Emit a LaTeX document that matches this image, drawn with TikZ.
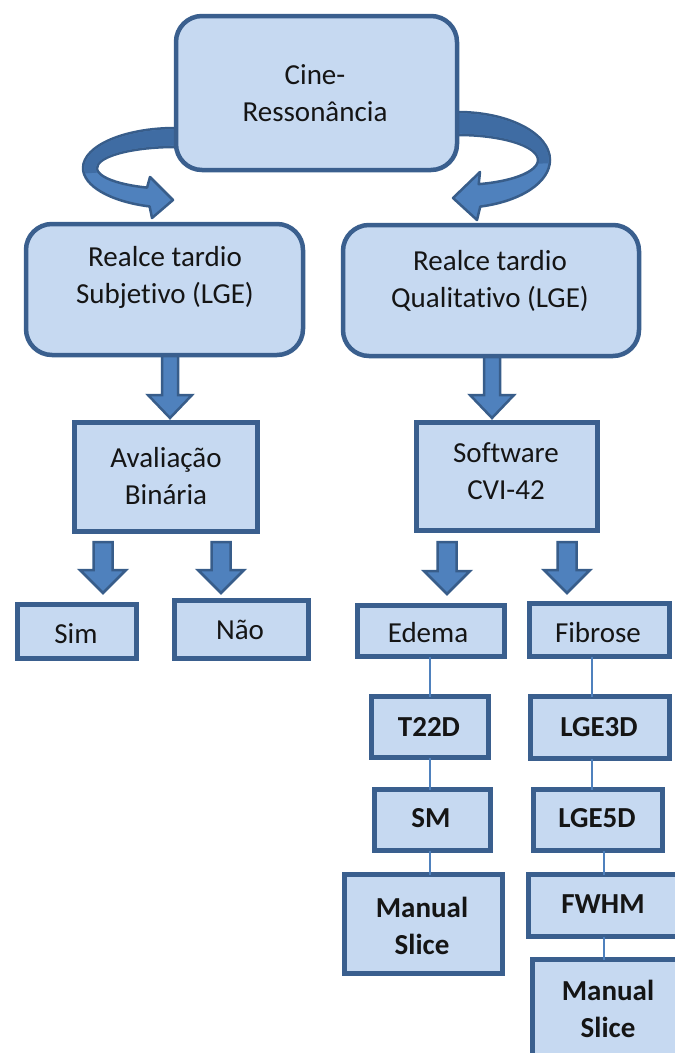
\documentclass[tikz,border=0pt]{standalone}
\usepackage{fontspec}
\setmainfont{Carlito}[RawFeature={-liga;-dlig;-clig}]
\usetikzlibrary{calc}
\definecolor{boxfill}{HTML}{C6D9F1}
\definecolor{boxline}{HTML}{3A5F8E}
\definecolor{arrfill}{HTML}{4F81BD}
\definecolor{arrback}{HTML}{3F6CA3}
\definecolor{arrline}{HTML}{385D8A}
\definecolor{conncol}{HTML}{4F81BD}
\definecolor{txtcol}{HTML}{151515}
\newcommand\blkarrow[5]{%
  \draw[blockarr] let \p1=(#1), \p2=(#2) in
  (\x1-#4pt,\y1) -- (\x1+#4pt,\y1) -- (\x1+#4pt,\y2+#3pt) -- (\x1+#5pt,\y2+#3pt)
  -- (\x1,\y2) -- (\x1-#5pt,\y2+#3pt) -- (\x1-#4pt,\y2+#3pt) -- cycle;}
\begin{document}
\begin{tikzpicture}[x=1pt,y=1pt,
  rbox/.style={draw=boxline, fill=boxfill, line width=4.5pt, rounded corners=26pt, inner sep=0pt, outer sep=0pt},
  sbox/.style={draw=boxline, fill=boxfill, line width=5pt, inner sep=0pt, outer sep=0pt},
  txt/.style={align=center, font=\fontsize{29}{37}\selectfont, text=txtcol, inner sep=0pt},
  btxt/.style={align=center, font=\fontsize{29}{37}\selectfont\bfseries, text=txtcol, inner sep=0pt},
  blockarr/.style={fill=arrfill, draw=arrline, line width=2.5pt, line join=miter},
  curvarr/.style={fill=arrfill, draw=arrline, line width=2.5pt, line join=round},
  backpart/.style={fill=arrback},
  connline/.style={draw=conncol, line width=1.6pt}]
\useasboundingbox (0,0) rectangle (675,-1053);
\clip (0,0) rectangle (675,-1053);

% curved arrows
\coordinate (cl) at (175,-168);
\coordinate (cr) at (458,-160);
\draw[curvarr] (175,-128) arc[start angle=90, end angle=254, x radius=92, y radius=40]
  -- (152,-218) -- (173,-200) -- (150,-177) -- ($(cl)+(249:78 and 21)$)
  arc[start angle=249, end angle=90, x radius=78, y radius=21] -- cycle;
\fill[backpart] ($(cl)+(90:90.7 and 38.7)$) arc[start angle=90, end angle=188, x radius=90.7, y radius=38.7]
  -- ($(cl)+(192:79.3 and 22.3)$) arc[start angle=192, end angle=90, x radius=79.3, y radius=22.3] -- cycle;
\draw[curvarr] (458,-112) arc[start angle=90, end angle=-76, x radius=92, y radius=48]
  -- (477,-220) -- (453,-198) -- (480,-172) -- ($(cr)+(-75:80 and 25)$)
  arc[start angle=-75, end angle=90, x radius=80, y radius=25] -- cycle;
\fill[backpart] ($(cr)+(90:90.7 and 46.7)$) arc[start angle=90, end angle=-4, x radius=90.7, y radius=46.7]
  -- ($(cr)+(-8:81.3 and 26.3)$) arc[start angle=-8, end angle=90, x radius=81.3, y radius=26.3] -- cycle;

% block arrows
\coordinate (a1s) at (170,-355); \coordinate (a1t) at (170,-418);
\coordinate (a2s) at (492,-356); \coordinate (a2t) at (492,-418);
\coordinate (a3s) at (103,-542); \coordinate (a3t) at (103,-593);
\coordinate (a4s) at (221,-542); \coordinate (a4t) at (221,-593);
\coordinate (a5s) at (447,-542); \coordinate (a5t) at (447,-594);
\coordinate (a6s) at (567,-542); \coordinate (a6t) at (567,-593);
\blkarrow{a1s}{a1t}{23}{8}{22}
\blkarrow{a2s}{a2t}{23}{8}{22}
\blkarrow{a3s}{a3t}{23}{9.5}{23}
\blkarrow{a4s}{a4t}{23}{9.5}{23}
\blkarrow{a5s}{a5t}{23}{9.5}{23}
\blkarrow{a6s}{a6t}{23}{9.5}{23}

% boxes
\node[rbox, minimum width=281pt, minimum height=154pt] (top) at (316.5,-93) {};
\node[rbox, minimum width=277pt, minimum height=131pt] (leftR) at (164.5,-289.5) {};
\node[rbox, minimum width=296pt, minimum height=131pt] (rightR) at (491,-290.5) {};
\node[sbox, minimum width=183pt, minimum height=109pt] (aval) at (166,-477) {};
\node[sbox, minimum width=181pt, minimum height=108pt] (soft) at (507,-476.5) {};
\node[sbox, minimum width=119pt, minimum height=54pt] (sim) at (77,-631.5) {};
\node[sbox, minimum width=134pt, minimum height=58pt] (nao) at (241.5,-629.5) {};
\node[sbox, minimum width=147pt, minimum height=51pt] (edema) at (431,-631) {};
\node[sbox, minimum width=140pt, minimum height=53pt] (fib) at (599.5,-630) {};
\node[sbox, minimum width=117pt, minimum height=61pt] (t22d) at (430,-727) {};
\node[sbox, minimum width=116pt, minimum height=61pt] (sm) at (432.5,-820) {};
\node[sbox, minimum width=158pt, minimum height=99pt] (manL) at (423.5,-924) {};
\node[sbox, minimum width=139pt, minimum height=62pt] (lge3d) at (600,-727.5) {};
\node[sbox, minimum width=129pt, minimum height=61pt] (lge5d) at (598,-820) {};
\node[sbox, minimum width=151pt, minimum height=62pt] (fwhm) at (604,-905.5) {};
\node[sbox, minimum width=151pt, minimum height=108pt] (manR) at (608,-1013.5) {};

% thin connectors
\draw[connline] (edema.south -| t22d.north) -- (t22d.north);
\draw[connline] (t22d.south) -- (t22d.south |- sm.north);
\draw[connline] (t22d.south |- sm.south) -- (t22d.south |- manL.north);
\draw[connline] ([xshift=-8pt]lge3d.north |- fib.south) -- ([xshift=-8pt]lge3d.north);
\draw[connline] ([xshift=-8pt]lge3d.south) -- ([xshift=-8pt]lge3d.south |- lge5d.north);
\draw[connline] (fwhm.north |- lge5d.south) -- (fwhm.north);
\draw[connline] (fwhm.south) -- (fwhm.south |- manR.north);

% texts
\node[txt] (ttop) at (315,-93) {Cine-\\Ressonância};
\node[txt] (tleftR) at (165,-277) {Realce tardio\\Subjetivo (LGE)};
\node[txt] (trightR) at (490,-281) {Realce tardio\\Qualitativo (LGE)};
\node[txt] (taval) at (166,-476) {Avaliação\\Binária};
\node[txt] (tsoft) at (506,-471) {Software\\CVI-42};
\node[txt] (tsim) at (76,-634) {Sim};
\node[txt] (tnao) at (240,-630) {Não};
\node[txt] (tedema) at (428,-633) {Edema};
\node[txt] (tfib) at (598,-633) {Fibrose};
\node[btxt] (tt22d) at (429,-727) {T22D};
\node[btxt] (tsm) at (431,-818) {SM};
\node[btxt] (tmanL) at (422,-926) {Manual\\Slice};
\node[btxt] (tlge3d) at (599,-727) {LGE3D};
\node[btxt] (tlge5d) at (597,-818) {LGE5D};
\node[btxt] (tfwhm) at (603,-904) {FWHM};
\node[btxt] (tmanR) at (608,-1009) {Manual\\Slice};
\end{tikzpicture}
\end{document}
